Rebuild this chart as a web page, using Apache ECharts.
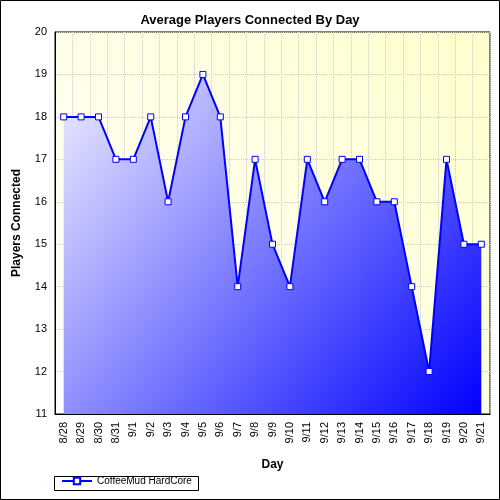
<!DOCTYPE html><html><head><meta charset="utf-8">
<script src="https://cdn.jsdelivr.net/npm/echarts@6/dist/echarts.min.js"></script>
<style>html,body{margin:0;padding:0}#c{width:500px;height:500px}</style></head><body>
<div id="c"></div>
<script>
var categories=['8/28','8/29','8/30','8/31','9/1','9/2','9/3','9/4','9/5','9/6','9/7','9/8','9/9','9/10','9/11','9/12','9/13','9/14','9/15','9/16','9/17','9/18','9/19','9/20','9/21'];
var players=[18,18,18,17,17,18,16,18,19,18,14,17,15,14,17,16,17,17,16,16,14,12,17,15,15];
var ch=echarts.init(document.getElementById('c'));
ch.setOption({
 animation:false,
 backgroundColor:'#fff',
 graphic:[{type:'rect',shape:{x:0.5,y:0.5,width:499,height:499},style:{fill:'none',stroke:'#000',lineWidth:1}},
  {type:'rect',left:54,bottom:9,shape:{width:144,height:14},style:{fill:'#fff',stroke:'#000'}}],
 title:{text:'Average Players Connected By Day',left:'center',top:9,textStyle:{fontFamily:'Arial',fontSize:13,fontWeight:'bold',color:'#000'}},
 legend:{left:56,bottom:9,itemWidth:30,itemHeight:8,textStyle:{fontFamily:'Arial',fontSize:10,color:'#000'},data:['CoffeeMud HardCore']},
 grid:{left:55,right:10,top:32,bottom:86,show:true,borderColor:'#000',
  backgroundColor:new echarts.graphic.LinearGradient(0,1,1,0,[{offset:0,color:'#ffffff'},{offset:1,color:'#ffffcc'}])},
 xAxis:{type:'category',data:categories,boundaryGap:true,name:'Day',nameLocation:'middle',nameGap:45,
  nameTextStyle:{fontFamily:'Arial',fontSize:12,fontWeight:'bold',color:'#000'},
  axisLine:{lineStyle:{color:'#000'}},axisTick:{show:false},
  axisLabel:{rotate:90,interval:0,fontFamily:'Arial',fontSize:11,color:'#000'},
  splitLine:{show:true,interval:0,lineStyle:{type:'dotted',color:'#ccc'}}},
 yAxis:{type:'value',min:11,max:20,interval:1,name:'Players Connected',nameLocation:'middle',nameGap:32,
  nameTextStyle:{fontFamily:'Arial',fontSize:12,fontWeight:'bold',color:'#000'},
  axisLine:{show:true,lineStyle:{color:'#000'}},axisTick:{show:false},
  axisLabel:{fontFamily:'Arial',fontSize:11,color:'#000'},
  splitLine:{lineStyle:{type:'dotted',color:'#ccc'}}},
 series:[{name:'CoffeeMud HardCore',type:'line',data:players,symbol:'rect',symbolSize:6,
  lineStyle:{color:'#0000ff',width:2},itemStyle:{color:'#fff',borderColor:'#0000ff',borderWidth:1},
  areaStyle:{opacity:1,origin:'start',color:new echarts.graphic.LinearGradient(0,0,1,1,[{offset:0,color:'#eeeeff'},{offset:1,color:'#0000ff'}],false)}}]
});
</script></body></html>
